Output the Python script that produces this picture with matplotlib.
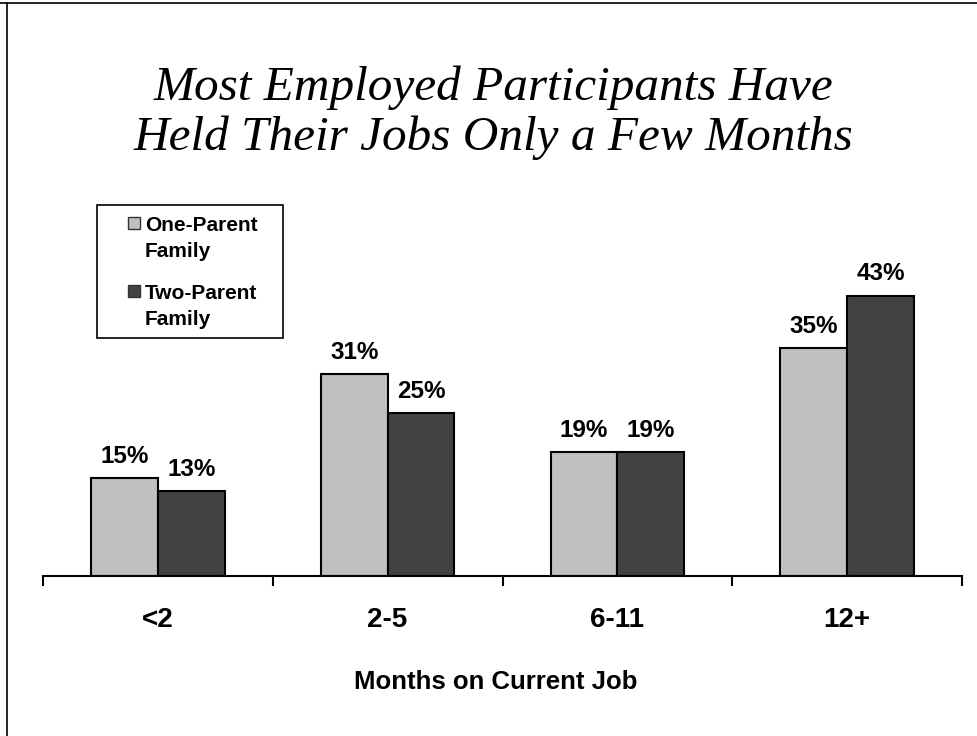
import matplotlib
matplotlib.use("Agg")
import matplotlib.pyplot as plt
from matplotlib.lines import Line2D
from matplotlib.patches import Rectangle
import numpy as np

categories = ["<2", "2-5", "6-11", "12+"]
one_parent = [15, 31, 19, 35]
two_parent = [13, 25, 19, 43]
series_names = ["One-Parent\nFamily", "Two-Parent\nFamily"]
title = "Most Employed Participants Have\nHeld Their Jobs Only a Few Months"
xlabel = "Months on Current Job"

W, H = 977, 736
fig = plt.figure(figsize=(W / 100, H / 100), dpi=100)
fig.patch.set_facecolor("white")


def fx(px):
    return px / W


def fy(py):
    return 1 - py / H


# frame lines (top and left)
fig.add_artist(Line2D([0, 1], [fy(3), fy(3)], color="black", lw=1.2, transform=fig.transFigure))
fig.add_artist(Line2D([fx(7), fx(7)], [0, fy(3)], color="black", lw=1.2, transform=fig.transFigure))

ax_left, ax_right = 43, 962
base_y = 576
px_per = 6.52
ymax = 50
top_y = base_y - ymax * px_per
ax = fig.add_axes([fx(ax_left), fy(base_y), (ax_right - ax_left) / W, (base_y - top_y) / H])
ax.set_facecolor("none")

x = np.arange(len(categories))
bw = 0.29
light = "#C0C0C0"
dark = "#424242"
b1 = ax.bar(x - bw / 2, one_parent, bw, color=light, edgecolor="black", linewidth=1.5, zorder=2)
b2 = ax.bar(x + bw / 2, two_parent, bw, color=dark, edgecolor="black", linewidth=1.5, zorder=2)

lab_font = dict(family="Liberation Sans", weight="bold", fontsize=17.5)
for bars, vals in ((b1, one_parent), (b2, two_parent)):
    for r, v in zip(bars, vals):
        ax.annotate(f"{v}%", (r.get_x() + r.get_width() / 2, v), xytext=(0, 11),
                    textcoords="offset points", ha="center", va="baseline", **lab_font)

ax.set_xlim(-0.5, len(categories) - 0.5)
ax.set_ylim(0, ymax)
for s in ("top", "right", "left"):
    ax.spines[s].set_visible(False)
ax.spines["bottom"].set_linewidth(1.5)
ax.set_yticks([])
ax.set_xticks(np.arange(len(categories) + 1) - 0.5)
ax.set_xticklabels([])
ax.tick_params(axis="x", direction="out", length=7, width=1.5)

# category labels centred under each group, using the axes' own data coordinates
for i, c in enumerate(categories):
    ax.annotate(c, (x[i], 0), xycoords=("data", "axes fraction"), xytext=(0, -(627 - base_y) * 0.72),
                textcoords="offset points", ha="center", va="baseline",
                family="Liberation Sans", weight="bold", fontsize=20)

fig.text(fx(495.5), fy(689), xlabel, ha="center", va="baseline",
         family="Liberation Sans", weight="bold", fontsize=18.5)

fig.text(fx(493), fy(113), title, ha="center", va="center", family="Liberation Serif",
         style="italic", fontsize=35.5, linespacing=1.17)

# legend box
fig.add_artist(Rectangle((fx(97), fy(338)), fx(283) - fx(97), fy(205) - fy(338), transform=fig.transFigure,
                         facecolor="white", edgecolor="black", lw=1.2, zorder=5))
leg_colors = [light, dark]
leg_tops = [215, 283]
for name, col, top in zip(series_names, leg_colors, leg_tops):
    fig.add_artist(Rectangle((fx(128), fy(top + 14)), fx(140) - fx(128), fy(top + 2) - fy(top + 14),
                             transform=fig.transFigure, facecolor=col, edgecolor="#333333", lw=1, zorder=6))
    l1, l2 = name.split("\n")
    fig.text(fx(145), fy(top + 16), l1, ha="left", va="baseline", family="Liberation Sans",
             weight="bold", fontsize=15, zorder=7)
    fig.text(fx(145), fy(top + 42), l2, ha="left", va="baseline", family="Liberation Sans",
             weight="bold", fontsize=15, zorder=7)

fig.savefig("out.png", dpi=100)
